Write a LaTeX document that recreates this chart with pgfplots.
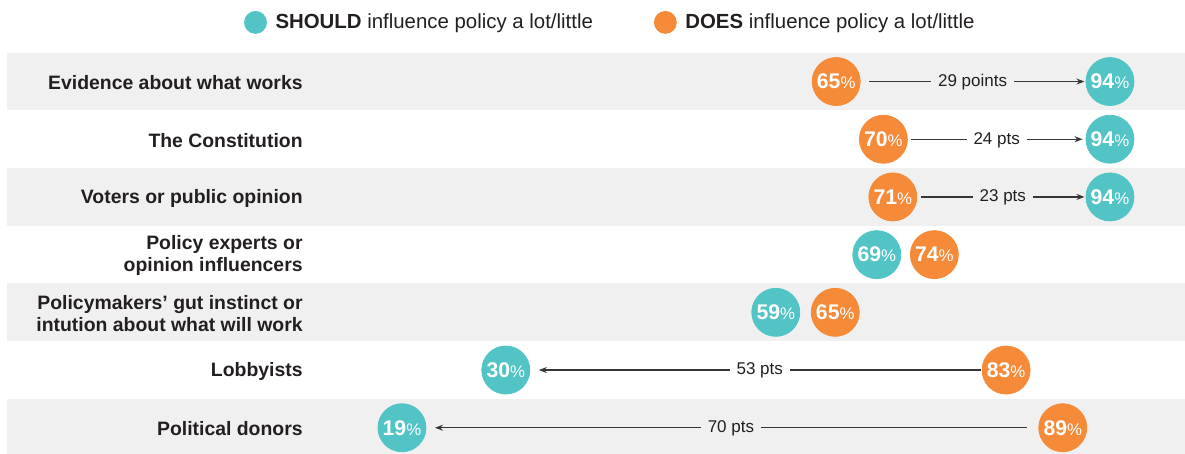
\documentclass[border=0pt]{standalone}
\usepackage{pgfplots}
\pgfplotsset{compat=1.18}
\usepackage{fontspec}
\setmainfont{Liberation Sans}
\usetikzlibrary{arrows.meta}
\definecolor{should}{HTML}{52C4C6}
\definecolor{does}{HTML}{F58A39}
\definecolor{band}{HTML}{F0F0F0}
\definecolor{ink}{HTML}{231F20}
\tikzset{
  gap/.style={-{Stealth[length=4pt,width=3pt]}, line width=0.6pt, draw=ink!90},
  lab/.style={font=\fontsize{8.5pt}{10pt}\selectfont, text=ink, inner xsep=3.5pt, inner ysep=1pt, yshift=-0.3pt},
}
\begin{document}
\begin{tikzpicture}
\path[use as bounding box] (0,0) rectangle (592.5pt,227pt);
\begin{axis}[
  axis on top,
  at={(3.5pt,0pt)}, anchor=south west,
  scale only axis, width=589pt, height=200.65pt,
  xmin=-22.84, xmax=101.95, ymin=0.545, ymax=7.5,
  clip=false,
  axis line style={draw=none},
  tick style={draw=none},
  xtick=\empty,
  ytick={1,2,3,4,5,6,7},
  yticklabels={Political donors, Lobbyists, {Policymakers’ gut instinct or\\intution about what will work}, {Policy experts or\\opinion influencers}, Voters or public opinion, The Constitution, Evidence about what works},
  yticklabel style={anchor=east, align=right, font=\fontsize{9.7pt}{11pt}\selectfont\bfseries, text=ink, xshift=148pt, yshift=-0.6pt, inner sep=0pt},
  legend style={at={(0.513,1.0755)}, anchor=center, draw=none, fill=none,
    legend columns=2, font=\fontsize{10.2pt}{12pt}\selectfont, text=ink,
    /tikz/every even column/.append style={column sep=28.5pt}},
  legend image code/.code={\fill (0pt,0pt) circle (5.5pt); \path[draw=none,fill=none] (0pt,0pt) -- (8pt,0pt);},
  circ/.style={only marks, mark=*, mark size=12pt,
    point meta=explicit symbolic,
    nodes near coords={\fontsize{10.6pt}{12pt}\selectfont\bfseries\pgfplotspointmeta\fontsize{8.4pt}{8pt}\selectfont\mdseries\%},
    every node near coord/.append style={anchor=center, text=white, inner sep=0pt}},
]
% background bands
\fill[band] (axis cs:-22.84,6.5) rectangle (axis cs:101.95,7.5);
\fill[band] (axis cs:-22.84,4.5) rectangle (axis cs:101.95,5.5);
\fill[band] (axis cs:-22.84,2.5) rectangle (axis cs:101.95,3.5);
\fill[band] (axis cs:-22.84,0.545) rectangle (axis cs:101.95,1.5);
% gap arrows
\draw[gap] (axis cs:68.5,7) -- node[lab, fill=band, pos=0.48] {29 points} (axis cs:91.3,7);
\draw[gap] (axis cs:72.9,6) -- node[lab, fill=white] {24 pts} (axis cs:91.1,6);
\draw[gap] (axis cs:74.0,5) -- node[lab, fill=band] {23 pts} (axis cs:91.3,5);
\draw[gap] (axis cs:80.3,2) -- node[lab, fill=white] {53 pts} (axis cs:33.5,2);
\draw[gap] (axis cs:85.2,1) -- node[lab, fill=band] {70 pts} (axis cs:22.5,1);
% SHOULD
\addplot[circ, color=should] table[meta=lab] {
x y lab
94 7 94
94 6 94
94 5 94
69.3 4 69
58.6 3 59
30 2 30
19 1 19
};
\addlegendentry{\textbf{SHOULD} influence policy a lot/little}
% DOES
\addplot[circ, color=does] table[meta=lab] {
x y lab
65 7 65
70 6 70
71 5 71
75.4 4 74
64.9 3 65
83 2 83
89 1 89
};
\addlegendentry{\textbf{DOES} influence policy a lot/little}
\end{axis}
\end{tikzpicture}
\end{document}
